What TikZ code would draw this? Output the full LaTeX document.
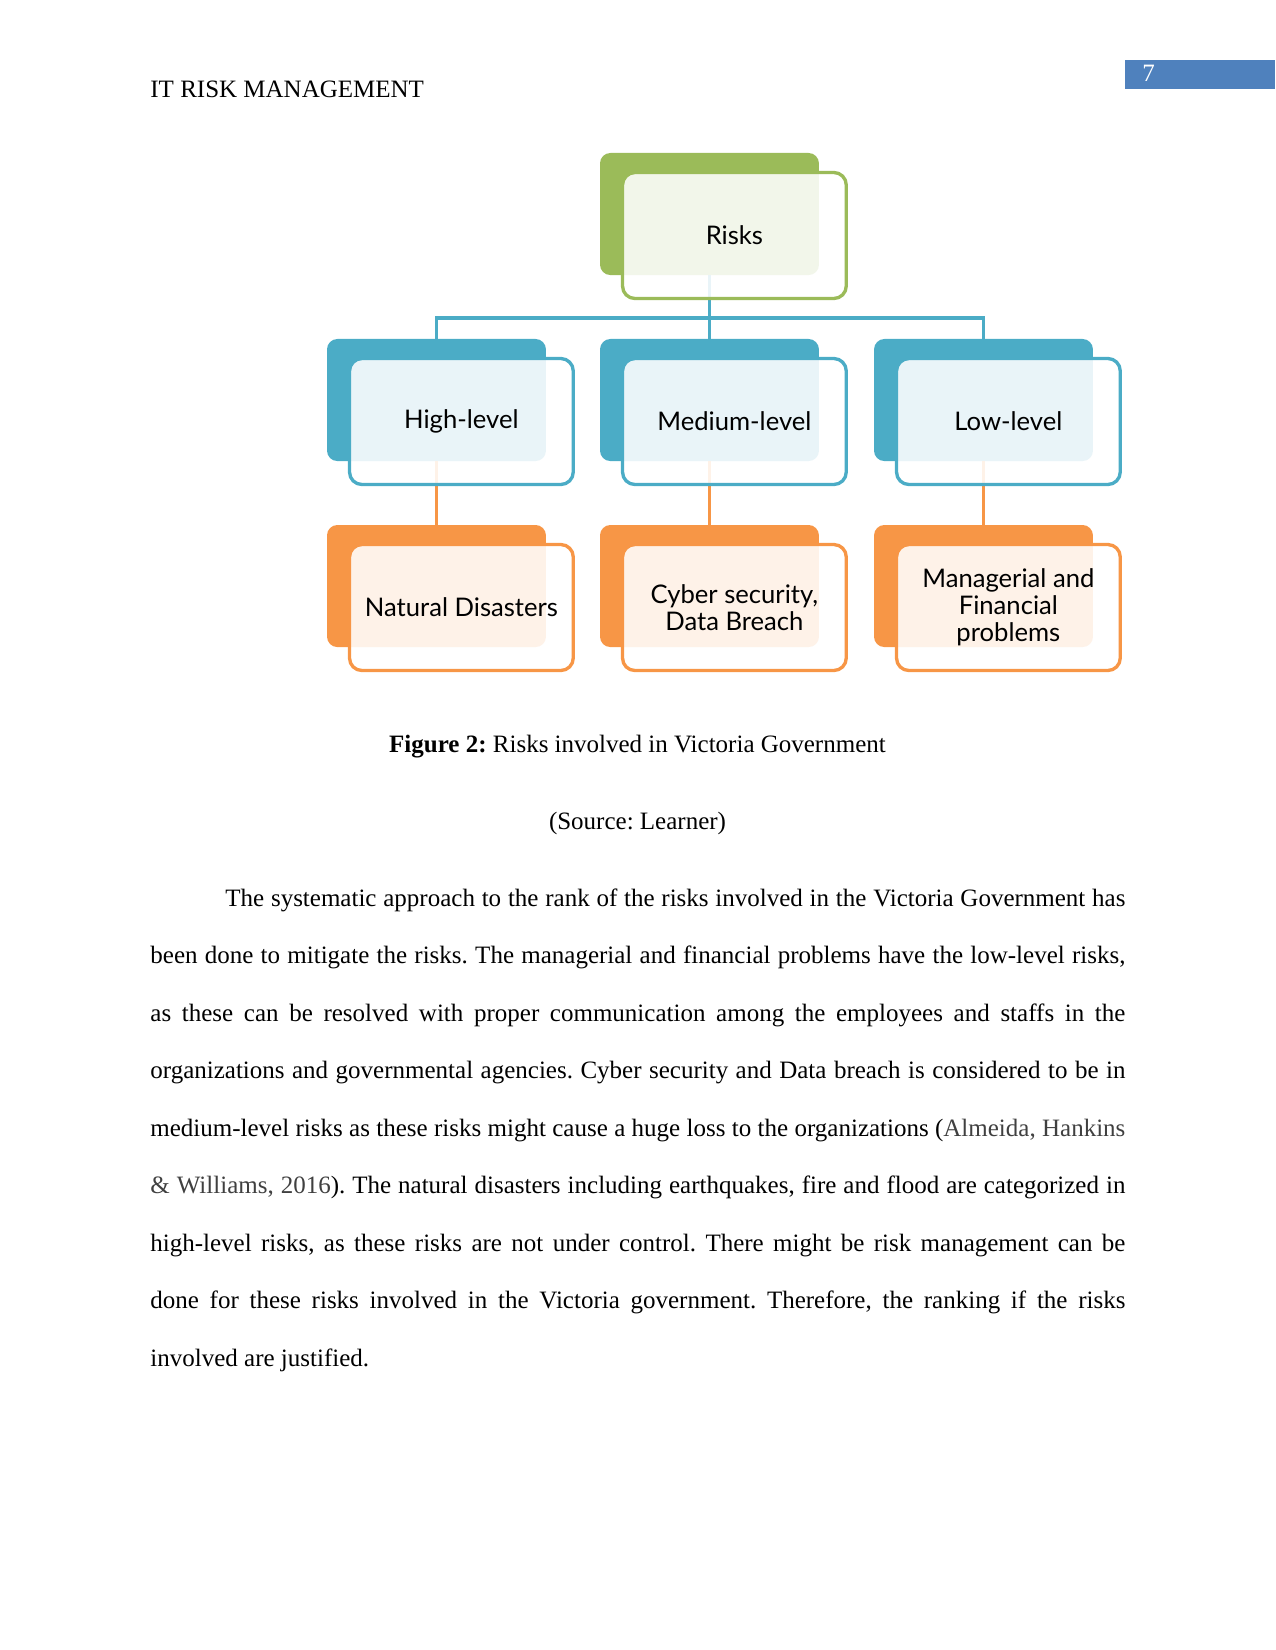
\documentclass[tikz,border=0pt]{standalone}
\usepackage{fontspec}
\setmainfont{Liberation Serif}
\newfontfamily\boxfont{Lato}
\definecolor{rgreen}{HTML}{9BBB59}
\definecolor{rblue}{HTML}{4BACC6}
\definecolor{rorange}{HTML}{F79646}
\definecolor{pgblue}{HTML}{4F81BD}
\definecolor{citegray}{HTML}{404040}
\AtBeginDocument{\frenchspacing}
\begin{document}
\begin{tikzpicture}[x=0.48pt,y=-0.48pt,
  backbox/.style={fill=#1, rounded corners=5pt, minimum width=105.1pt, minimum height=58.6pt,
    anchor=north west, inner sep=0pt, outer sep=0pt},
  frontbox/.style={draw=#1, line width=1.6pt, fill=white, fill opacity=0.88, text opacity=1,
    rounded corners=6pt, minimum width=107.4pt, minimum height=60.5pt, anchor=north west,
    inner sep=0pt, outer sep=0pt, font=\boxfont\fontsize{12.3}{13}\selectfont, align=center},
  link/.style={draw=#1, line width=1.5pt},
  bodytext/.style={inner sep=0pt, font=\fontsize{12}{14}\selectfont}]
\useasboundingbox (0,0) rectangle (1275,1650);

% header
\node[bodytext, anchor=base west] (hdr) at (150,97.5) {IT RISK MANAGEMENT};
\node[fill=pgblue, minimum width=72pt, minimum height=13.9pt, anchor=north west, inner sep=0pt] (pgbox) at (1125,60) {};
\node[bodytext, anchor=base west, text=white] (pgnum) at (1142,82) {7};

% back boxes
\node[backbox=rgreen] (rb) at (600,153) {};
\node[backbox=rblue] (hb) at (327,339) {};
\node[backbox=rblue] (mb) at (600,339) {};
\node[backbox=rblue] (lb) at (874,339) {};
\node[backbox=rorange] (nb) at (327,525) {};
\node[backbox=rorange] (cb) at (600,525) {};
\node[backbox=rorange] (fb) at (874,525) {};

% connectors
\coordinate (bus) at (0,318);
\draw[link=rblue] (rb.south) -- (mb.north);
\draw[link=rblue] (hb.north) -- (hb.north |- bus) -- (lb.north |- bus) -- (lb.north);
\draw[link=rorange] (hb.south) -- (nb.north);
\draw[link=rorange] (mb.south) -- (cb.north);
\draw[link=rorange] (lb.south) -- (fb.north);

% front boxes
\node[frontbox=rgreen] (rf) at (622.5,172.5) {Risks};
\node[frontbox=rblue] (hf) at (349.5,358.5) {High-level};
\node[frontbox=rblue] (mf) at (622.5,358.5) {Medium-level};
\node[frontbox=rblue] (lf) at (896.5,358.5) {Low-level};
\node[frontbox=rorange] (nf) at (349.5,544.5) {Natural Disasters};
\node[frontbox=rorange] (cf) at (622.5,544.5) {Cyber security,\\Data Breach};
\node[frontbox=rorange] (ff) at (896.5,544.5) {Managerial and\\Financial\\problems};

% caption
\node[bodytext, anchor=base] (cap) at (637.5,752) {\textbf{Figure 2:} Risks involved in Victoria Government};
\node[bodytext, anchor=base] (src) at (637.5,829) {(Source: Learner)};

% body paragraph
\node[inner sep=0pt, anchor=base west, text width=468pt, align=justify,
  font=\fontsize{12}{27.6}\selectfont] (body) at (150,906) {%
\frenchspacing\hyphenpenalty=10000\hbadness=10000\emergencystretch=20pt
\hspace*{36pt}The systematic approach to the rank of the risks involved in the Victoria Government has\linebreak
been done to mitigate the risks. The managerial and financial problems have the low-level risks,\linebreak
as these can be resolved with proper communication among the employees and staffs in the\linebreak
organizations and governmental agencies. Cyber security and Data breach is considered to be in\linebreak
medium-level risks as these risks might cause a huge loss to the organizations ({\color{citegray}Almeida, Hankins\linebreak
\& Williams, 2016}). The natural disasters including earthquakes, fire and flood are categorized in\linebreak
high-level risks, as these risks are not under control. There might be risk management can be\linebreak
done for these risks involved in the Victoria government. Therefore, the ranking if the risks\linebreak
involved are justified.};
\end{tikzpicture}
\end{document}
